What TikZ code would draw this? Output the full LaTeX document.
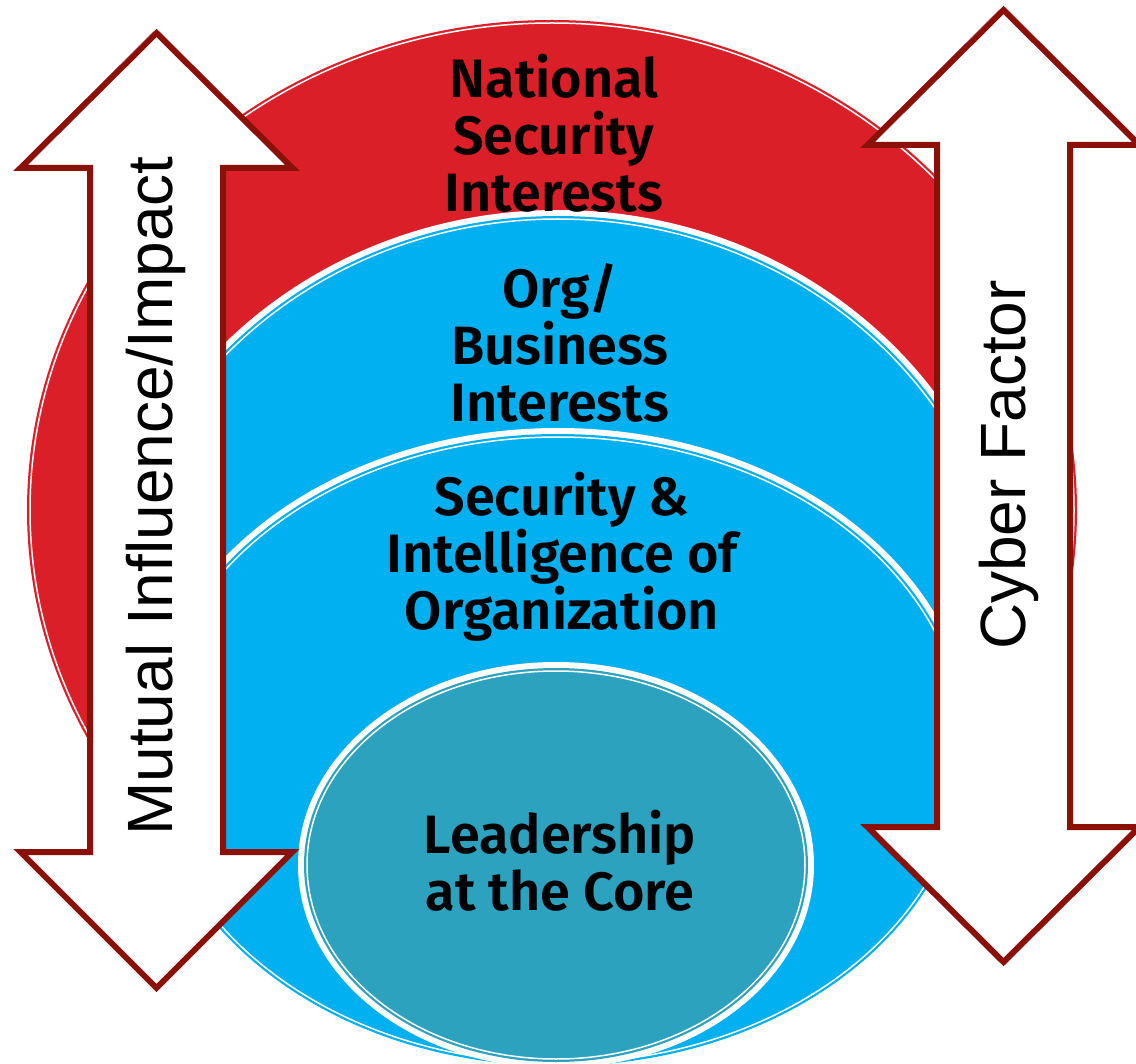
\documentclass[tikz,border=0pt]{standalone}
\usepackage{fontspec}
\setmainfont{Fira Sans}[BoldFont={Fira Sans SemiBold}]
\newfontfamily\arrowfont{Liberation Sans}
\usetikzlibrary{positioning}
\definecolor{nsired}{RGB}{218,31,41}
\definecolor{orgblue}{RGB}{0,176,240}
\definecolor{coreteal}{RGB}{44,162,191}
\definecolor{arrowred}{RGB}{139,16,8}

% one layer of the nested ellipses: colour, centre, x radius, y radius
\newcommand{\layer}[4]{%
  \fill[white] (#2) ellipse [x radius=#3+6, y radius=#4+6];
  \fill[#1] (#2) ellipse [x radius=#3, y radius=#4];
  \draw[white, line width=1.5] (#2) ellipse [x radius=#3-3, y radius=#4-3];
}

\begin{document}
\begin{tikzpicture}[x=1pt, y=-1pt, line join=miter,
  corelabel/.style={font=\bfseries\fontsize{54}{57}\selectfont, align=center, inner sep=0pt},
  arrowlabel/.style={font=\arrowfont\fontsize{64}{64}\selectfont, rotate=90, anchor=base, inner sep=0pt},
  bigarrow/.style={draw=arrowred, fill=white, line width=6}]
\useasboundingbox (0,0) rectangle (1136,1064);

\coordinate (nsi) at (552,510);
\coordinate (org) at (558,641);
\coordinate (sec) at (558,750);
\coordinate (core) at (556,865);

\layer{nsired}{nsi}{525}{490}
\layer{orgblue}{org}{455}{425}
\layer{orgblue}{sec}{410}{316}
\layer{coreteal}{core}{252}{197}

% the two double arrows
\draw[bigarrow] (156.5,33) -- (292.5,168) -- (223,168) -- (223,852) -- (292.5,852)
  -- (156.5,988) -- (20.5,852) -- (90,852) -- (90,168) -- (20.5,168) -- cycle;
\draw[bigarrow] (1003.5,10) -- (1139.5,145) -- (1070,145) -- (1070,827) -- (1139.5,827)
  -- (1003.5,962) -- (867.5,827) -- (937,827) -- (937,145) -- (867.5,145) -- cycle;

\node[corelabel] (nsitext) at (554,133) {National\\Security\\Interests};
\node[corelabel] (orgtext) at (560,343) {Org/\\Business\\Interests};
\node[corelabel] (sectext) at (562,557) {Security \&\\Intelligence of\\Organization};
\node[corelabel] (coretext) at (560,861) {Leadership\\at the Core};

\node[arrowlabel] (mutual) at (172,496) {Mutual Influence/Impact};
\node[arrowlabel] (cyber) at (1025,465) {Cyber Factor};
\end{tikzpicture}
\end{document}
